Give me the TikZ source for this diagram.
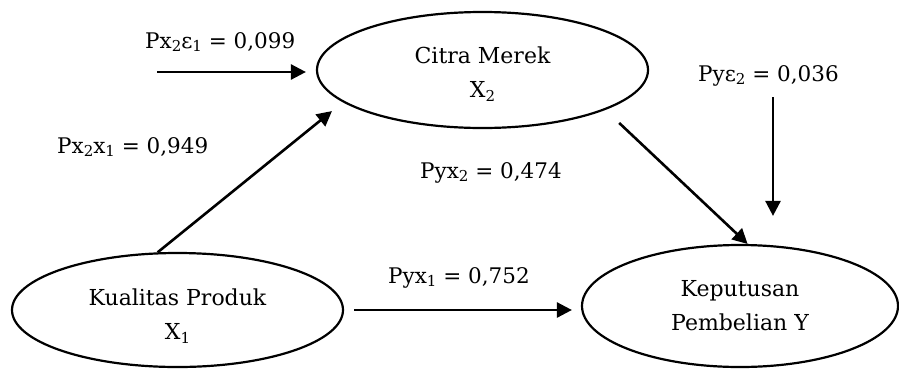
\documentclass[tikz,border=0pt]{standalone}
\usepackage{fontspec}
\setmainfont{DejaVu Serif}
\usetikzlibrary{arrows.meta,shapes.geometric}
\newcommand{\subidx}[1]{\raisebox{-0.3ex}{\fontsize{15}{15}\selectfont #1}}
\tikzset{
  var/.style={
    ellipse,
    draw=black,
    line width=2.2pt,
    align=center,
    inner sep=0pt,
    font=\fontsize{22}{34}\selectfont
  },
  path-arrow/.style={line width=2.6pt, -{Triangle[length=15pt,width=15pt]}},
  coef/.style={anchor=base west, inner sep=0pt, font=\fontsize{21.5}{26}\selectfont}
}

\begin{document}
\begin{tikzpicture}[x=1pt,y=-1pt]
  \useasboundingbox (0,0) rectangle (899,370);

  % Variables
  \node[var, minimum width=331pt, minimum height=116pt, text height=59pt] (cm) at (482.5,70) {Citra Merek\\X\subidx{2}};
  \node[var, minimum width=331pt, minimum height=114pt, text height=63pt] (kp) at (177.5,310) {Kualitas Produk\\X\subidx{1}};
  \node[var, minimum width=316pt, minimum height=122pt] (kep) at (740,306) {Keputusan\\Pembelian Y};

  % Error terms
  \coordinate (e1) at (157,72);
  \coordinate (e2) at (773,97);

  % Paths
  \draw[path-arrow, shorten >=10pt] (e1) -- (e1 -| cm.west);
  \draw[path-arrow, shorten >=14pt] (kp.109) -- (cm.193);
  \draw[path-arrow, shorten <=19pt] (cm.-18.5) -- (kep.83);
  \draw[path-arrow, shorten >=28pt] (e2) -- (e2 |- kep.north);
  \draw[path-arrow, shorten <=10pt, shorten >=9pt] (kp.east) -- (kp.east -| kep.west);

  % Coefficients
  \node[coef] (c-x2e1) at (145,48) {Px\subidx{2}ε\subidx{1} = 0,099};
  \node[coef] (c-x2x1) at (57,153) {Px\subidx{2}x\subidx{1} = 0,949};
  \node[coef] (c-yx2) at (420,178) {Pyx\subidx{2} = 0,474};
  \node[coef] (c-ye2) at (698,81) {Pyε\subidx{2} = 0,036};
  \node[coef] (c-yx1) at (388,283) {Pyx\subidx{1} = 0,752};
\end{tikzpicture}
\end{document}
